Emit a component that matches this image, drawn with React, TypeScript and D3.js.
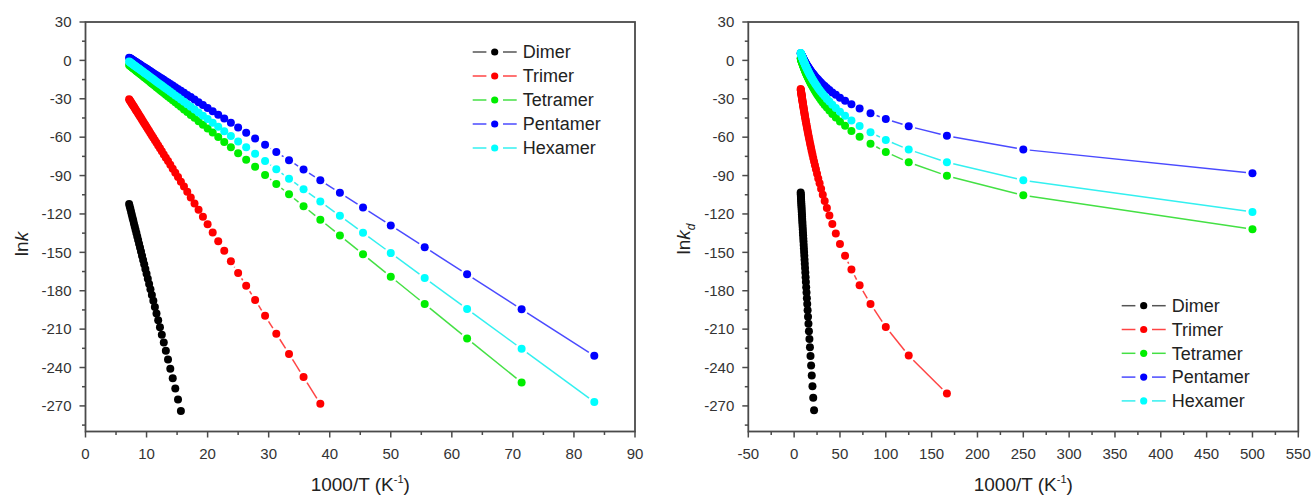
import React from "react";
import * as d3 from "d3";

// 1000/T (K^-1), for T = 140, 138, ... , 4, 2 K
const invT = [
  7.143, 7.246, 7.353, 7.463, 7.576, 7.692, 7.813, 7.937, 8.065, 8.197,
  8.333, 8.475, 8.621, 8.772, 8.929, 9.091, 9.259, 9.434, 9.615, 9.804,
  10, 10.204, 10.417, 10.638, 10.87, 11.111, 11.364, 11.628, 11.905, 12.195,
  12.5, 12.821, 13.158, 13.514, 13.889, 14.286, 14.706, 15.152, 15.625, 16.129,
  16.667, 17.241, 17.857, 18.519, 19.231, 20, 20.833, 21.739, 22.727, 23.81,
  25, 26.316, 27.778, 29.412, 31.25, 33.333, 35.714, 38.462, 41.667, 45.455,
  50, 55.556, 62.5, 71.429, 83.333, 100, 125, 166.667, 250, 500,
];

// left panel: lnk, each list starts at T = 140 K
const lnkDimer = [
  -112.2, -114.2, -116.2, -118.3, -120.5, -122.7, -125.0, -127.4, -129.8, -132.3,
  -134.9, -137.6, -140.4, -143.3, -146.3, -149.4, -152.6, -155.9, -159.4, -163.0,
  -166.7, -170.6, -174.7, -178.9, -183.3, -187.9, -192.7, -197.7, -203.0, -208.6,
  -214.4, -220.5, -226.9, -233.7, -240.9, -248.4, -256.4, -265.0, -274.0,
];
const lnkTrimer = [
  -30.3, -31.1, -31.9, -32.7, -33.6, -34.5, -35.4, -36.3, -37.3, -38.3,
  -39.4, -40.4, -41.5, -42.7, -43.9, -45.1, -46.4, -47.7, -49.1, -50.5,
  -52.0, -53.6, -55.2, -56.9, -58.6, -60.5, -62.4, -64.4, -66.5, -68.7,
  -71.0, -73.5, -76.0, -78.7, -81.6, -84.6, -87.8, -91.2, -94.8, -98.6,
  -102.7, -107.1, -111.8, -116.8, -122.2, -128.1, -134.4, -141.3, -148.8, -157.0,
  -166.1, -176.1, -187.2, -199.6, -213.6, -229.4, -247.5, -268.4,
];
const lnkTetramer = [
  -3.6, -4.0, -4.4, -4.8, -5.2, -5.7, -6.2, -6.6, -7.1, -7.6,
  -8.2, -8.7, -9.3, -9.9, -10.5, -11.1, -11.7, -12.4, -13.1, -13.8,
  -14.6, -15.4, -16.2, -17.1, -18.0, -18.9, -19.9, -20.9, -22.0, -23.1,
  -24.3, -25.5, -26.8, -28.2, -29.6, -31.1, -32.8, -34.5, -36.3, -38.3,
  -40.3, -42.6, -44.9, -47.5, -50.2, -53.2, -56.4, -59.9, -63.7, -67.9,
  -72.5, -77.6, -83.2, -89.5, -96.6, -104.7, -113.9, -124.5, -136.8, -151.5,
  -169.0, -190.4, -217.3, -251.7,
];
const lnkPentamer = [
  2.1, 1.8, 1.5, 1.2, 0.8, 0.5, 0.1, -0.3, -0.7, -1.1,
  -1.5, -1.9, -2.4, -2.8, -3.3, -3.8, -4.3, -4.9, -5.4, -6.0,
  -6.6, -7.2, -7.9, -8.5, -9.3, -10.0, -10.8, -11.6, -12.4, -13.3,
  -14.2, -15.2, -16.3, -17.3, -18.5, -19.7, -21.0, -22.4, -23.8, -25.3,
  -27.0, -28.7, -30.6, -32.7, -34.8, -37.2, -39.7, -42.5, -45.5, -48.8,
  -52.5, -56.5, -61.0, -66.0, -71.6, -78.0, -85.3, -93.7, -103.5, -115.0,
  -129.0, -146.0, -167.2, -194.5, -230.9,
];
const lnkHexamer = [
  -0.9, -1.3, -1.7, -2.1, -2.5, -2.9, -3.3, -3.7, -4.2, -4.6,
  -5.1, -5.6, -6.1, -6.6, -7.2, -7.7, -8.3, -8.9, -9.6, -10.2,
  -10.9, -11.6, -12.4, -13.1, -14.0, -14.8, -15.7, -16.6, -17.6, -18.6,
  -19.7, -20.8, -21.9, -23.2, -24.5, -25.9, -27.4, -28.9, -30.6, -32.3,
  -34.2, -36.2, -38.4, -40.7, -43.2, -45.8, -48.7, -51.9, -55.4, -59.1,
  -63.3, -67.9, -73.0, -78.7, -85.1, -92.4, -100.7, -110.3, -121.5, -134.7,
  -150.6, -170.0, -194.3, -225.4, -267.0,
];

// right panel: lnk_d, each list starts at T = 140 K
const lnkdDimer = [
  -103.3, -104.6, -106.0, -107.4, -108.8, -110.3, -111.8, -113.4, -115.0, -116.7,
  -118.4, -120.2, -122.0, -123.9, -125.9, -127.9, -130.0, -132.1, -134.4, -136.7,
  -139.1, -141.6, -144.2, -146.9, -149.8, -152.7, -155.8, -158.9, -162.3, -165.7,
  -169.4, -173.2, -177.2, -181.4, -185.8, -190.4, -195.3, -200.4, -205.8, -211.6,
  -217.7, -224.1, -231.0, -238.4, -246.2, -254.6, -263.6, -273.3,
];
const lnkdTrimer = [
  -22.3, -22.9, -23.4, -23.9, -24.5, -25.1, -25.7, -26.3, -26.9, -27.5,
  -28.2, -28.8, -29.5, -30.2, -31.0, -31.7, -32.5, -33.3, -34.1, -35.0,
  -35.8, -36.8, -37.7, -38.7, -39.7, -40.7, -41.8, -42.9, -44.0, -45.2,
  -46.5, -47.8, -49.1, -50.5, -52.0, -53.5, -55.1, -56.8, -58.5, -60.4,
  -62.3, -64.3, -66.4, -68.7, -71.0, -73.5, -76.2, -79.0, -82.0, -85.1,
  -88.5, -92.2, -96.1, -100.3, -104.9, -109.9, -115.3, -121.3, -127.9, -135.2,
  -143.4, -152.7, -163.4, -175.8, -190.4, -208.3, -230.7, -260.4,
];
const lnkdTetramer = [
  1.7, 1.5, 1.2, 1.0, 0.7, 0.5, 0.2, -0.1, -0.4, -0.6,
  -0.9, -1.2, -1.6, -1.9, -2.2, -2.5, -2.9, -3.2, -3.6, -4.0,
  -4.4, -4.8, -5.2, -5.6, -6.1, -6.5, -7.0, -7.5, -8.0, -8.5,
  -9.0, -9.6, -10.2, -10.8, -11.4, -12.0, -12.7, -13.4, -14.1, -14.9,
  -15.7, -16.5, -17.4, -18.4, -19.3, -20.3, -21.4, -22.6, -23.8, -25.1,
  -26.4, -27.9, -29.4, -31.1, -32.9, -34.8, -36.9, -39.2, -41.8, -44.6,
  -47.7, -51.1, -55.1, -59.7, -65.1, -71.5, -79.6, -90.2, -105.4, -132.0,
];
const lnkdPentamer = [
  5.5, 5.3, 5.1, 5.0, 4.8, 4.6, 4.4, 4.2, 4.0, 3.8,
  3.6, 3.4, 3.2, 3.0, 2.7, 2.5, 2.3, 2.0, 1.8, 1.5,
  1.2, 0.9, 0.6, 0.4, 0.0, -0.3, -0.6, -0.9, -1.3, -1.7,
  -2.0, -2.4, -2.8, -3.3, -3.7, -4.1, -4.6, -5.1, -5.6, -6.2,
  -6.7, -7.3, -7.9, -8.6, -9.3, -10.0, -10.7, -11.5, -12.4, -13.3,
  -14.2, -15.2, -16.3, -17.5, -18.8, -20.1, -21.6, -23.2, -25.0, -26.9,
  -29.1, -31.5, -34.3, -37.5, -41.3, -45.8, -51.5, -58.9, -69.6, -88.2,
];
const lnkdHexamer = [
  5.8, 5.6, 5.4, 5.1, 4.9, 4.6, 4.4, 4.1, 3.9, 3.6,
  3.3, 3.1, 2.8, 2.5, 2.2, 1.9, 1.5, 1.2, 0.9, 0.5,
  0.2, -0.2, -0.6, -1.0, -1.4, -1.8, -2.3, -2.7, -3.2, -3.7,
  -4.2, -4.7, -5.2, -5.8, -6.4, -7.0, -7.6, -8.2, -8.9, -9.6,
  -10.4, -11.2, -12.0, -12.8, -13.7, -14.7, -15.7, -16.7, -17.9, -19.1,
  -20.3, -21.7, -23.1, -24.7, -26.3, -28.1, -30.1, -32.2, -34.6, -37.2,
  -40.1, -43.3, -47.0, -51.2, -56.2, -62.2, -69.7, -79.6, -93.7, -118.4,
];

const names = ["Dimer", "Trimer", "Tetramer", "Pentamer", "Hexamer"];
const yTicks = [30, 0, -30, -60, -90, -120, -150, -180, -210, -240, -270];
const leftXTicks = [0, 10, 20, 30, 40, 50, 60, 70, 80, 90];
const rightXTicks = [-50, 0, 50, 100, 150, 200, 250, 300, 350, 400, 450, 500, 550];

const markerColors = ["#000000", "#ff0000", "#00ee00", "#0000ff", "#00ffff"];
const lineColors = ["#555555", "#ff4444", "#44e044", "#4a4aff", "#33f0f0"];

const FONT = "'Liberation Sans', Arial, Helvetica, sans-serif";
const R = 4; // marker radius
const GAP = 6.5; // line stops short of each marker, like Origin
const AXIS = "#4a4a4a";

const y = d3.scaleLinear().domain([-290, 30]).range([431.5, 22]);

function gapSegments(pts: number[][]) {
  const out: number[][] = [];
  for (let i = 1; i < pts.length; i++) {
    const [ax, ay] = pts[i - 1];
    const [bx, by] = pts[i];
    const dx = bx - ax, dy = by - ay;
    const d = Math.hypot(dx, dy);
    if (d <= 2 * GAP) continue;
    const ux = dx / d, uy = dy / d;
    out.push([ax + ux * GAP, ay + uy * GAP, bx - ux * GAP, by - uy * GAP]);
  }
  return out;
}

const Panel = ({ xDomain, xRange, xTicks, series, legendX, legendY, legendStep, yTitleX, yTitleY, sub }: any) => {
  const x = d3.scaleLinear().domain(xDomain).range(xRange);
  const [x0, x1] = xRange;
  const [yb, yt] = y.range();
  const xMinor = xTicks.slice(1).map((t: number, i: number) => (t + xTicks[i]) / 2);
  const yMinor = yTicks.slice(1).map((t, i) => (t + yTicks[i]) / 2);
  yMinor.push(yTicks[yTicks.length - 1] - 15);

  return (
    <g fontFamily={FONT}>
      {/* series */}
      {series.map((vals: number[], s: number) => {
        const pts = vals.map((v, i) => [x(invT[i]), y(v)]);
        return (
          <g key={s}>
            {gapSegments(pts).map((sg, i) => (
              <line key={i} x1={sg[0]} y1={sg[1]} x2={sg[2]} y2={sg[3]} stroke={lineColors[s]} strokeWidth={1.5} />
            ))}
            {pts.map((p, i) => (
              <circle key={i} cx={p[0]} cy={p[1]} r={R} fill={markerColors[s]} />
            ))}
          </g>
        );
      })}

      {/* frame */}
      <rect x={x0} y={yt} width={x1 - x0} height={yb - yt} fill="none" stroke={AXIS} strokeWidth={1.8} />

      {/* y axis */}
      {yTicks.map((t) => (
        <g key={t}>
          <line x1={x0 - 6} x2={x0} y1={y(t)} y2={y(t)} stroke={AXIS} strokeWidth={1.5} />
          <text x={x0 - 14} y={y(t)} dy="0.35em" textAnchor="end" fontSize={15} fill="#333">{t}</text>
        </g>
      ))}
      {yMinor.map((t) => (
        <line key={t} x1={x0 - 3.5} x2={x0} y1={y(t)} y2={y(t)} stroke={AXIS} strokeWidth={1.5} />
      ))}

      {/* x axis */}
      {xTicks.map((t: number) => (
        <g key={t}>
          <line x1={x(t)} x2={x(t)} y1={yb} y2={yb + 6} stroke={AXIS} strokeWidth={1.5} />
          <text x={x(t)} y={yb + 27} textAnchor="middle" fontSize={15} fill="#333">{t}</text>
        </g>
      ))}
      {xMinor.map((t: number) => (
        <line key={t} x1={x(t)} x2={x(t)} y1={yb} y2={yb + 3.5} stroke={AXIS} strokeWidth={1.5} />
      ))}

      {/* titles */}
      <text x={(x0 + x1) / 2} y={491} textAnchor="middle" fontSize={19} fill="#222">
        1000/T (K<tspan fontSize={11} dy={-8}>-1</tspan><tspan dy={8}>)</tspan>
      </text>
      <text transform={`translate(${yTitleX},${yTitleY}) rotate(-90)`} textAnchor="middle" fontSize={19} fill="#222">
        ln<tspan fontStyle="italic">k</tspan>
        {sub ? <tspan fontStyle="italic" fontSize={12} dy={5}>{sub}</tspan> : null}
      </text>

      {/* legend */}
      {names.map((n, i) => {
        const ly = legendY + i * legendStep;
        const mx = legendX + 22;
        return (
          <g key={n}>
            <line x1={legendX} x2={mx - 8.3} y1={ly} y2={ly} stroke={lineColors[i]} strokeWidth={1.5} />
            <line x1={mx + 8.3} x2={legendX + 44} y1={ly} y2={ly} stroke={lineColors[i]} strokeWidth={1.5} />
            <circle cx={mx} cy={ly} r={3.6} fill={markerColors[i]} />
            <text x={legendX + 50} y={ly} dy="0.35em" fontSize={18} fill="#222">{n}</text>
          </g>
        );
      })}
    </g>
  );
};

export default function App() {
  return (
    <svg width={1313} height={495} style={{ position: "absolute", left: 0, top: 0, background: "#fff" }}>
      <rect width={1313} height={495} fill="#fff" />
      <Panel
        xDomain={[0, 90]}
        xRange={[85.5, 635]}
        xTicks={leftXTicks}
        series={[lnkDimer, lnkTrimer, lnkTetramer, lnkPentamer, lnkHexamer]}
        legendX={472.7}
        legendY={52}
        legendStep={24}
        yTitleX={28}
        yTitleY={244}
      />
      <Panel
        xDomain={[-50, 550]}
        xRange={[748.3, 1298.3]}
        xTicks={rightXTicks}
        series={[lnkdDimer, lnkdTrimer, lnkdTetramer, lnkdPentamer, lnkdHexamer]}
        legendX={1121.7}
        legendY={305.7}
        legendStep={23.8}
        yTitleX={690}
        yTitleY={239}
        sub="d"
      />
    </svg>
  );
}
